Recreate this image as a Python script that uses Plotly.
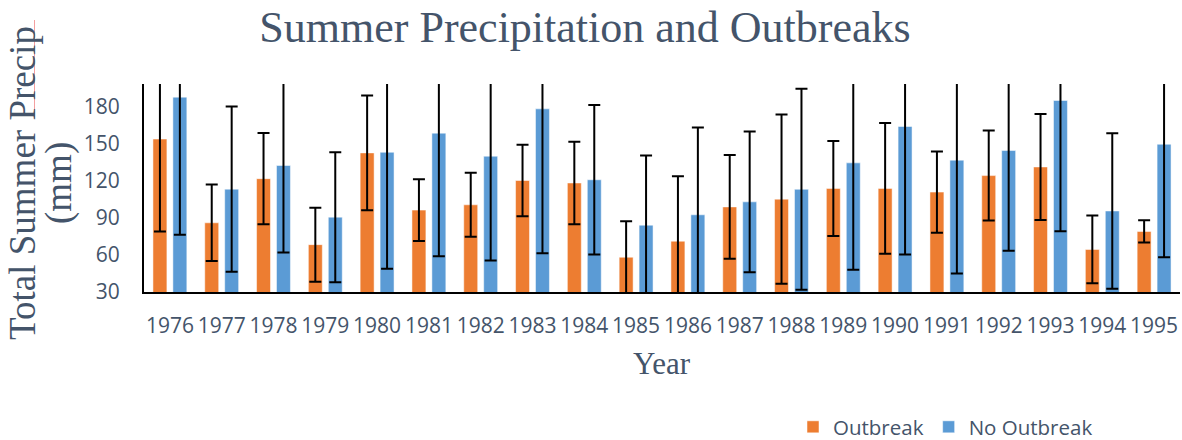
import plotly.graph_objects as go

years = [str(y) for y in range(1976, 1996)]

outbreak = [154.0, 86.1, 121.9, 68.4, 142.8, 96.4, 100.7, 120.4, 118.4, 58.2,
            71.2, 99.0, 105.3, 114.0, 114.0, 111.0, 124.4, 131.4, 64.5, 79.1]
outbreak_err = [75.0, 31.0, 37.0, 30.0, 46.5, 25.0, 26.0, 29.0, 33.5, 29.2,
                52.7, 42.0, 68.7, 38.5, 53.0, 33.0, 36.5, 43.0, 27.5, 9.0]

no_outbreak = [188.0, 113.4, 132.6, 90.7, 143.3, 158.8, 140.1, 178.5, 121.0, 84.2,
               92.6, 103.1, 113.3, 134.7, 164.2, 136.9, 144.7, 185.3, 95.7, 149.8]
no_outbreak_err = [111.6, 67.0, 70.6, 52.7, 94.5, 99.8, 84.6, 117.0, 60.6, 56.5,
                   70.8, 57.1, 81.5, 86.7, 103.8, 91.9, 81.3, 106.0, 63.1, 91.6]

y_ticks = [30, 60, 90, 120, 150, 180]

TEXT = "#44546A"
SERIF = "Liberation Serif"
SANS = "Open Sans"

fig = go.Figure()
fig.add_trace(go.Bar(
    x=years, y=outbreak, name="Outbreak",
    marker=dict(color="#ED7D31", line=dict(color="rgba(255,255,255,0.5)", width=1)),
    error_y=dict(type="data", array=outbreak_err, visible=True,
                 color="black", thickness=2, width=6),
))
fig.add_trace(go.Bar(
    x=years, y=no_outbreak, name="No Outbreak",
    marker=dict(color="#5B9BD5", line=dict(color="rgba(255,255,255,0.5)", width=1)),
    error_y=dict(type="data", array=no_outbreak_err, visible=True,
                 color="black", thickness=2, width=6),
))

PLOT_TOP = 84
PLOT_BOT = 292
H = PLOT_BOT - PLOT_TOP
L, R = 144, 1180
W = R - L

def px_x(p):
    return (p - L) / W

def px_y(p):
    return (PLOT_BOT - p) / H

fig.update_layout(
    width=1182, height=440,
    margin=dict(l=L, r=1182 - R, t=PLOT_TOP, b=440 - PLOT_BOT, autoexpand=False),
    paper_bgcolor="white", plot_bgcolor="white",
    barmode="group", bargap=0.23, bargroupgap=0.3,
    title=dict(text="Summer Precipitation and Outbreaks",
               font=dict(family=SERIF, size=44, color=TEXT),
               x=585 / 1182, xanchor="center", xref="container",
               y=1 - 26.5 / 440, yanchor="middle", yref="container"),
    xaxis=dict(type="category", showline=True, linecolor="black", linewidth=2,
               showgrid=False, ticks="", tickangle=0,
               tickfont=dict(family=SANS, size=21, color=TEXT),
               ticklabelstandoff=14),
    yaxis=dict(range=[30, 30 + H / 1.2333], tickvals=y_ticks, showline=True,
               linecolor="black", linewidth=2, showgrid=False, zeroline=False,
               ticks="", tickfont=dict(family=SANS, size=21, color=TEXT),
               ticklabelstandoff=18),
    legend=dict(orientation="h", x=px_x(793), xanchor="left",
                y=px_y(427), yanchor="middle",
                font=dict(family=SANS, size=20.5, color=TEXT),
                bgcolor="rgba(0,0,0,0)"),
    annotations=[
        dict(text="Year", xref="paper", yref="paper", x=0.5, y=px_y(363),
             xanchor="center", yanchor="middle", showarrow=False,
             font=dict(family=SERIF, size=31, color=TEXT)),
        dict(text="Total Summer Precip", xref="paper", yref="paper",
             x=px_x(22), y=px_y(183), xanchor="center", yanchor="middle",
             textangle=-90, showarrow=False,
             font=dict(family=SERIF, size=37, color=TEXT)),
        dict(text="(mm)", xref="paper", yref="paper",
             x=px_x(59), y=px_y(183), xanchor="center", yanchor="middle",
             textangle=-90, showarrow=False,
             font=dict(family=SERIF, size=37, color=TEXT)),
    ],
    shapes=[
        dict(type="line", xref="paper", yref="paper",
             x0=px_x(34.5), x1=px_x(34.5), y0=px_y(118), y1=px_y(20),
             line=dict(color="#F4A0A0", width=1)),
    ],
)

fig.write_html("out.html", config={"displayModeBar": False},
               post_script="document.body.style.margin='0';document.body.style.overflow='hidden';")
